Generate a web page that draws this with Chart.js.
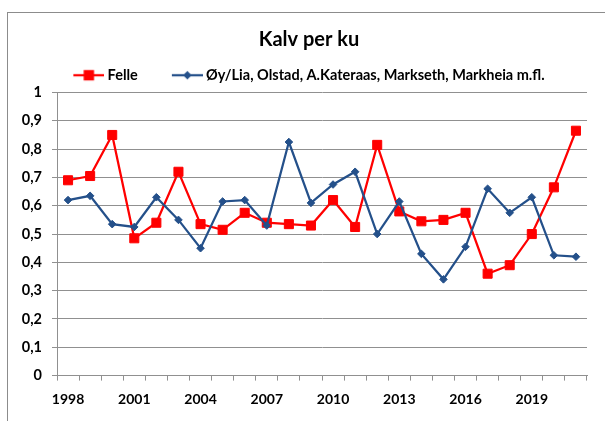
<!DOCTYPE html>
<html>
<head>
<meta charset="utf-8">
<script src="https://cdn.jsdelivr.net/npm/chart.js@4.4.0/dist/chart.umd.min.js"></script>
<style>
html,body{margin:0;padding:0;background:#fff;overflow:hidden;width:605px;height:421px;}
#frame{position:absolute;left:7px;top:12px;width:700px;height:500px;border:1px solid #8c8c8c;box-sizing:border-box;}
#c{position:absolute;left:8px;top:13px;}
</style>
</head>
<body>
<div id="frame"></div>
<canvas id="c" width="602" height="408"></canvas>
<script>
const chartTitle = 'Kalv per ku';
const years = ['1998','1999','2000','2001','2002','2003','2004','2005','2006','2007','2008','2009',
               '2010','2011','2012','2013','2014','2015','2016','2017','2018','2019','2020','2021'];
const shownYears = ['1998','2001','2004','2007','2010','2013','2016','2019'];
const yTickLabels = ['0','0,1','0,2','0,3','0,4','0,5','0,6','0,7','0,8','0,9','1'];
const nameFelle = 'Felle';
const nameOy = 'Øy/Lia, Olstad, A.Kateraas, Markseth, Markheia m.fl.';
const felle = [0.69, 0.705, 0.85, 0.485, 0.54, 0.72, 0.535, 0.515, 0.575, 0.54, 0.535, 0.53,
               0.62, 0.525, 0.815, 0.58, 0.545, 0.55, 0.575, 0.36, 0.39, 0.50, 0.665, 0.865];
const oyLia = [0.62, 0.635, 0.535, 0.525, 0.63, 0.55, 0.45, 0.615, 0.62, 0.53, 0.825, 0.61,
               0.675, 0.72, 0.50, 0.615, 0.43, 0.34, 0.455, 0.66, 0.575, 0.63, 0.425, 0.42];

const RED = '#ff0000';
const BLUE = '#24508a';
const GRID = '#909090';
const FONT = 'Lato';

function legendIcon(color, shape) {
  const W = 35, H = 14;
  const c = document.createElement('canvas');
  c.width = W; c.height = H;
  const g = c.getContext('2d');
  g.strokeStyle = color; g.lineWidth = 2.25;
  g.beginPath(); g.moveTo(4, H / 2); g.lineTo(W, H / 2); g.stroke();
  const cx = 4 + 15.5, cy = H / 2;
  g.fillStyle = color;
  if (shape === 'rect') {
    g.fillRect(cx - 5.2, cy - 5.2, 10.4, 10.4);
  } else {
    g.beginPath();
    g.moveTo(cx, cy - 4.3); g.lineTo(cx + 4.3, cy); g.lineTo(cx, cy + 4.3); g.lineTo(cx - 4.3, cy);
    g.closePath(); g.fill();
  }
  return c;
}
const icons = [legendIcon(RED, 'rect'), legendIcon(BLUE, 'diamond')];

new Chart(document.getElementById('c'), {
  type: 'line',
  data: {
    labels: years,
    datasets: [
      {
        label: nameFelle, data: felle, order: 2, yAxisID: 'y',
        borderColor: RED, backgroundColor: RED, borderWidth: 2.25,
        pointStyle: 'rect', pointRadius: 6.4, pointBorderWidth: 1,
        pointBackgroundColor: RED, pointBorderColor: RED, tension: 0
      },
      {
        label: nameOy, data: oyLia, order: 1, yAxisID: 'y',
        borderColor: BLUE, backgroundColor: BLUE, borderWidth: 2.25,
        pointStyle: 'rectRot', pointRadius: 3.8, pointBorderWidth: 1,
        pointBackgroundColor: BLUE, pointBorderColor: BLUE, tension: 0
      }
    ]
  },
  options: {
    responsive: false,
    animation: false,
    events: [],
    layout: { padding: { left: 12, right: 12, top: 0, bottom: 13.4 } },
    plugins: {
      tooltip: { enabled: false },
      title: {
        display: true, text: chartTitle, color: '#000',
        font: { family: FONT, size: 20, weight: 'bold', lineHeight: 1.2 },
        padding: { top: 15, bottom: -18 }
      },
      legend: {
        display: true, position: 'top', align: 'center',
        labels: {
          usePointStyle: true, pointStyleWidth: 27, padding: 34,
          color: '#000',
          font: { family: FONT, size: 14.5, weight: 'bold' },
          generateLabels: (chart) => chart.data.datasets.map((ds, i) => ({
            text: ds.label, pointStyle: icons[i], datasetIndex: i, hidden: false,
            fillStyle: ds.borderColor, strokeStyle: ds.borderColor, lineWidth: 0, fontColor: '#000'
          }))
        }
      }
    },
    scales: {
      x: {
        type: 'category', offset: true,
        grid: { display: true, drawOnChartArea: false, drawTicks: true, tickLength: 5, offset: true, color: GRID },
        border: { display: true, color: GRID },
        ticks: {
          autoSkip: false, maxRotation: 0, minRotation: 0, padding: 10, color: '#000',
          font: { family: FONT, size: 14, weight: 'bold' },
          callback: function (v, i) { const y = years[i]; return shownYears.includes(y) ? y : ''; }
        },
        afterFit: (s) => { s.height = 32; }
      },
      y: {
        position: 'left', min: 0, max: 1,
        grid: { color: GRID, tickLength: 5, drawTicks: true },
        border: { display: true, color: GRID },
        ticks: {
          stepSize: 0.1, padding: 10, color: '#000',
          font: { family: FONT, size: 14.5, weight: 'bold' },
          callback: (v, i) => yTickLabels[i]
        },
        afterFit: (s) => { s.width = 37; }
      },
      spacer: {
        type: 'linear', position: 'right', display: true,
        grid: { display: false, drawTicks: false },
        border: { display: false },
        ticks: { display: false },
        afterFit: (s) => { s.width = 11; }
      }
    }
  }
});
</script>
</body>
</html>
